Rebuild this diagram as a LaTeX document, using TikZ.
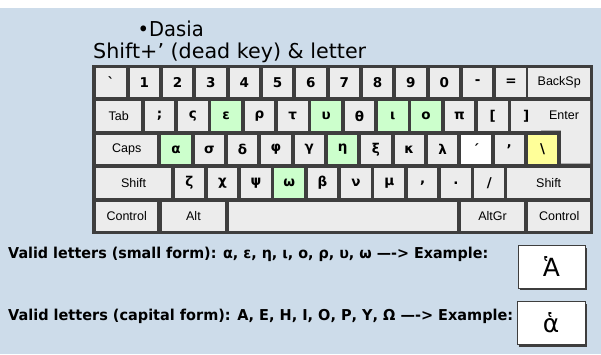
\documentclass[tikz,border=0pt]{standalone}
\usepackage{fontspec}
\usepackage{graphicx}
\setmainfont{DejaVu Sans}
\newfontfamily\keyfont{Liberation Sans}
\definecolor{bgblue}{RGB}{205,220,234}
\definecolor{keygray}{RGB}{236,236,236}
\definecolor{framegray}{RGB}{62,62,62}
\definecolor{keygreen}{RGB}{204,255,204}
\definecolor{keyyellow}{RGB}{255,255,153}
\tikzset{
  key/.style={fill=#1, inner sep=0pt, minimum width=29.5pt, minimum height=29.5pt,
    anchor=north west, font=\bfseries\fontsize{13.5}{13.5}\selectfont},
  key/.default=keygray,
  wide/.style={fill=keygray, inner sep=0pt, minimum height=29.5pt, minimum width=#1,
    anchor=north west, font=\keyfont\fontsize{12.5}{12.5}\selectfont},
  heading/.style={anchor=base west, inner sep=0pt, font=\fontsize{20.5}{20.5}\selectfont},
  infoline/.style={anchor=base west, inner sep=0pt, font=\bfseries\fontsize{15}{15}\selectfont},
  exbox/.style={draw=framegray, fill=white, line width=0.8pt, inner sep=0pt,
    minimum width=67pt, minimum height=43pt, font=\fontsize{25}{25}\selectfont},
}
\begin{document}
\begin{tikzpicture}[x=1pt,y=-1pt]
\useasboundingbox (0,0) rectangle (601,354);
\fill[white] (0,0) rectangle (601,8);
\fill[bgblue] (0,8) rectangle (601,354);

% headings
\node[heading] (title) at (137.5,36) {\resizebox{66pt}{\height}{•Dasia}};
\node[heading] (subtitle) at (93,58) {\resizebox{273pt}{\height}{Shift+’ (dead key) \& letter}};

% keyboard body
\fill[framegray] (92,64.5) rectangle (593,234);

% row 1
\foreach \lab [count=\i from 0] in {\textasciigrave,1,2,3,4,5,6,7,8,9,0,-,=}
  \node[key] (ra\i) at ({96+\i*33.33},67.5) {\lab};
\node[wide=62pt] (backsp) at (528,67.5) {BackSp};

% row 2
\node[wide=45pt] (tab) at (96,101) {Tab};
\foreach \lab/\col [count=\i from 0] in {{;}/keygray,ς/keygray,ε/keygreen,ρ/keygray,τ/keygray,υ/keygreen,θ/keygray,ι/keygreen,ο/keygreen,π/keygray,{[}/keygray,{]}/keygray}
  \node[key=\col] (rb\i) at ({144.5+\i*33.33},101) {\lab};
\fill[keygray] (541,101) -- (590,101) -- (590,163.5) -- (561,163.5)
  -- (561,130.5) -- (541,130.5) -- cycle;
\node[font=\keyfont\fontsize{12.5}{12.5}\selectfont, inner sep=0pt] (enter) at (564,115.5) {Enter};

% row 3
\node[wide=61pt] (caps) at (96,134.5) {Caps};
\foreach \lab/\col [count=\i from 0] in {α/keygreen,σ/keygray,δ/keygray,φ/keygray,γ/keygray,η/keygreen,ξ/keygray,κ/keygray,λ/keygray,´/white,'/keygray,\textbackslash/keyyellow}
  \node[key=\col] (rc\i) at ({161+\i*33.33},134.5) {\lab};

% row 4
\node[wide=74.7pt] (lshift) at (96,168) {Shift};
\foreach \lab/\col [count=\i from 0] in {ζ/keygray,χ/keygray,ψ/keygray,ω/keygreen,β/keygray,ν/keygray,μ/keygray,{,}/keygray,./keygray,\slash/keygray}
  \node[key=\col] (rd\i) at ({174.3+\i*33.33},168) {\lab};
\node[wide=83pt] (rshift) at (507,168) {Shift};

% row 5
\node[wide=61pt] (lctrl) at (96,201.5) {Control};
\node[wide=63.5pt] (alt) at (161.5,201.5) {Alt};
\node[wide=228.5pt] (space) at (228.5,201.5) {};
\node[wide=63.3pt] (altgr) at (460.7,201.5) {AltGr};
\node[wide=62pt] (rctrl) at (528,201.5) {Control};

% valid letters and examples
\node[infoline] (small) at (8,258)
  {\resizebox{480pt}{\height}{Valid letters (small form): α, ε, η, ι, ο, ρ, υ, ω —-> Example:}};
\node[infoline] (capital) at (8,320)
  {\resizebox{505pt}{\height}{Valid letters (capital form): Α, Ε, Η, Ι, Ο, Ρ, Υ, Ω —-> Example:}};

\fill[framegray] (520,247.5) rectangle (587,290);
\node[exbox] (exA) at (551.5,266.5) {Ἁ};
\fill[framegray] (519,303.5) rectangle (587,347);
\node[exbox, minimum width=68pt] (exa) at (551,323) {ἁ};
\end{tikzpicture}
\end{document}
